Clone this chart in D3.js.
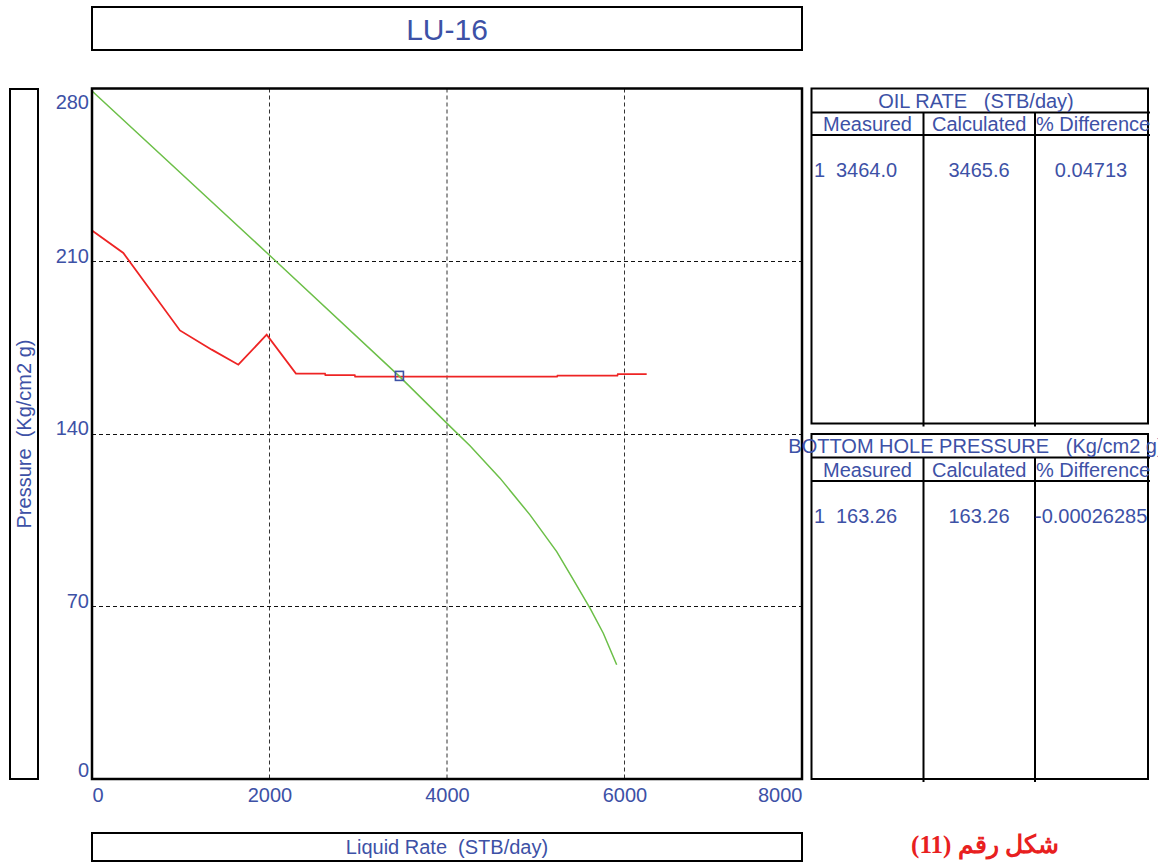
<!DOCTYPE html>
<html>
<head>
<meta charset="utf-8">
<script src="https://cdn.jsdelivr.net/npm/d3@7"></script>
<style>
  body { margin: 0; background: #fff; }
  svg text { font-family: "Liberation Sans", Arial, sans-serif; }
</style>
</head>
<body>
<svg id="chart" width="1166" height="863"></svg>
<script>
// Well name and axis labels
const wellName = "LU-16";
const xLabel = "Liquid Rate  (STB/day)";
const yLabel = "Pressure  (Kg/cm2 g)";
const caption = "شكل رقم (11)";

// Axis ticks
const xTicks = [0, 2000, 4000, 6000, 8000];
const yTicks = [0, 70, 140, 210, 280];

// Inflow performance curve (green)
const iprRate     = [0, 2000, 3464, 4014, 4259, 4597, 4935, 5236, 5423, 5611, 5761, 5912];
const iprPressure = [279, 212.4, 163.26, 143.7, 135.1, 122.0, 107.1, 92.2, 80.8, 69.3, 59.1, 46.3];

// Tubing / outflow curve (red)
const vlpRate     = [0, 353, 991, 1349, 1649, 1968, 2298, 2625, 2630, 2960, 2965, 5240, 5245, 5920, 5925, 6250];
const vlpPressure = [222.4, 213.3, 181.9, 174.1, 168.0, 180.2, 164.4, 164.4, 163.8, 163.8, 163.2, 163.2, 163.6, 163.6, 164.2, 164.2];

// Measured test point
const testRate = [3464.0];
const testPressure = [163.26];

// Match tables
const tableColumns = ["Measured", "Calculated", "% Difference"];
const oilRateRow = ["3464.0", "3465.6", "0.04713"];
const bhpRow = ["163.26", "163.26", "-0.00026285"];

const blue = "#3d51a6";
const fs = 20;
const svg = d3.select("#chart");

const plot = { left: 92, right: 802, top: 88.5, bottom: 779 };
const x = d3.scaleLinear().domain([0, 8000]).range([plot.left, plot.right]);
const y = d3.scaleLinear().domain([0, 280]).range([plot.bottom, plot.top]);

// Title box
svg.append("rect").attr("x", 92).attr("y", 7).attr("width", 710).attr("height", 43)
  .attr("fill", "none").attr("stroke", "#000").attr("stroke-width", 2);
svg.append("text").attr("x", 447).attr("y", 40).attr("text-anchor", "middle")
  .attr("font-size", 30).attr("fill", blue).text(wellName);

// Y label box
svg.append("rect").attr("x", 10).attr("y", 89).attr("width", 28).attr("height", 690)
  .attr("fill", "none").attr("stroke", "#000").attr("stroke-width", 2);
svg.append("text").attr("transform", "translate(31,434) rotate(-90)")
  .attr("text-anchor", "middle").attr("font-size", fs).attr("fill", blue)
  .style("white-space", "pre").text(yLabel);

// X label box
svg.append("rect").attr("x", 92).attr("y", 833).attr("width", 710).attr("height", 28)
  .attr("fill", "none").attr("stroke", "#000").attr("stroke-width", 2);
svg.append("text").attr("x", 447).attr("y", 854).attr("text-anchor", "middle")
  .attr("font-size", fs).attr("fill", blue).style("white-space", "pre").text(xLabel);

// Grid lines
const grid = svg.append("g");
grid.selectAll("line.v").data(xTicks.filter(d => d > 0 && d < 8000)).join("line")
  .attr("x1", d => x(d)).attr("x2", d => x(d)).attr("y1", plot.top).attr("y2", plot.bottom)
  .attr("stroke", "#333").attr("stroke-width", 1).attr("stroke-dasharray", "4,3");
grid.selectAll("line.h").data(yTicks.filter(d => d > 0 && d < 280)).join("line")
  .attr("x1", plot.left).attr("x2", plot.right).attr("y1", d => Math.round(y(d)) + 0.5).attr("y2", d => Math.round(y(d)) + 0.5)
  .attr("stroke", "#111").attr("stroke-width", 1).attr("stroke-dasharray", "4,3");

// Axes
const xAxis = svg.append("g").attr("transform", `translate(0,${plot.bottom})`)
  .call(d3.axisBottom(x).tickValues(xTicks).tickSize(0).tickFormat(d3.format("d")));
xAxis.select(".domain").remove();
xAxis.selectAll("text").attr("font-size", fs).attr("fill", blue)
  .attr("font-family", "Liberation Sans, Arial, sans-serif")
  .attr("y", 23).attr("dy", 0)
  .attr("text-anchor", d => d === 0 ? "start" : d === 8000 ? "end" : "middle");

const yAxis = svg.append("g").attr("transform", `translate(${plot.left},0)`)
  .call(d3.axisLeft(y).tickValues(yTicks).tickSize(0).tickPadding(3).tickFormat(d3.format("d")));
yAxis.select(".domain").remove();
yAxis.selectAll("text").attr("font-size", fs).attr("fill", blue)
  .attr("font-family", "Liberation Sans, Arial, sans-serif")
  .attr("dy", d => d === 280 ? "19.5px" : d === 0 ? "-3px" : "1px");

// Curves
const line = d3.line().x(d => x(d[0])).y(d => y(d[1]));
svg.append("path").datum(vlpRate.map((r, i) => [r, vlpPressure[i]]))
  .attr("d", line).attr("fill", "none").attr("stroke", "#ee2424").attr("stroke-width", 1.8);
svg.append("path").datum(iprRate.map((r, i) => [r, iprPressure[i]]))
  .attr("d", line).attr("fill", "none").attr("stroke", "#6cbf48").attr("stroke-width", 1.5);

// Test point marker
svg.selectAll("rect.pt").data(testRate).join("rect")
  .attr("x", (d, i) => x(d) - 4).attr("y", (d, i) => y(testPressure[i]) - 5)
  .attr("width", 8).attr("height", 9)
  .attr("fill", "none").attr("stroke", "#3d51a6").attr("stroke-width", 1.6);

// Plot frame
svg.append("rect").attr("x", plot.left).attr("y", plot.top).attr("width", plot.right - plot.left)
  .attr("height", plot.bottom - plot.top).attr("fill", "none").attr("stroke", "#000").attr("stroke-width", 2.5);

// Match tables
const colX = [811.5, 923.5, 1035, 1148];
function drawTable(top, titleBottom, headBottom, bottom, title, row) {
  const g = svg.append("g");
  g.append("rect").attr("x", colX[0]).attr("y", top).attr("width", colX[3] - colX[0]).attr("height", bottom - top)
    .attr("fill", "none").attr("stroke", "#000").attr("stroke-width", 2);
  g.append("line").attr("x1", colX[0]).attr("x2", colX[3] + 2).attr("y1", titleBottom).attr("y2", titleBottom)
    .attr("stroke", "#000").attr("stroke-width", 2);
  g.append("line").attr("x1", colX[0]).attr("x2", colX[3] + 2).attr("y1", headBottom).attr("y2", headBottom)
    .attr("stroke", "#000").attr("stroke-width", 2);
  g.selectAll("line.col").data([colX[1], colX[2]]).join("line")
    .attr("x1", d => d).attr("x2", d => d).attr("y1", titleBottom).attr("y2", bottom + 3)
    .attr("stroke", "#000").attr("stroke-width", 2);
  const clipId = "clip" + Math.round(top);
  g.append("clipPath").attr("id", clipId).append("rect")
    .attr("x", 700).attr("y", top - 5).attr("width", 458).attr("height", 40);
  g.append("text").attr("x", 976).attr("y", titleBottom - 5).attr("text-anchor", "middle")
    .attr("clip-path", `url(#${clipId})`)
    .attr("font-size", fs).attr("fill", blue).style("white-space", "pre").text(title);
  g.selectAll("text.head").data(tableColumns).join("text")
    .attr("x", (d, i) => i === 2 ? 1036 : (colX[i] + colX[i + 1]) / 2)
    .attr("y", headBottom - 4)
    .attr("text-anchor", (d, i) => i === 2 ? "start" : "middle")
    .attr("font-size", fs).attr("fill", blue).text(d => d);
  g.append("text").attr("x", 814).attr("y", headBottom + 42).attr("font-size", fs).attr("fill", blue).text("1");
  g.selectAll("text.val").data(row).join("text")
    .attr("x", (d, i) => i === 0 ? 836 : i === 1 ? 979 : (d.startsWith("-") ? 1035 : 1091))
    .attr("y", headBottom + 42)
    .attr("text-anchor", (d, i) => i === 0 ? "start" : i === 1 ? "middle" : (d.startsWith("-") ? "start" : "middle"))
    .attr("font-size", fs).attr("fill", blue).text(d => d);
}
drawTable(88.5, 112.5, 135, 423.5, "OIL RATE   (STB/day)", oilRateRow);
drawTable(434, 457.5, 481, 779, "BOTTOM HOLE PRESSURE   (Kg/cm2 g)", bhpRow);

// Figure caption
svg.append("text").attr("x", 985).attr("y", 853).attr("text-anchor", "middle")
  .attr("font-weight", "bold")
  .attr("font-size", 25).attr("fill", "#e82020").attr("direction", "rtl")
  .style("font-family", "'Liberation Serif', 'DejaVu Serif', serif").text(caption);
</script>
</body>
</html>
